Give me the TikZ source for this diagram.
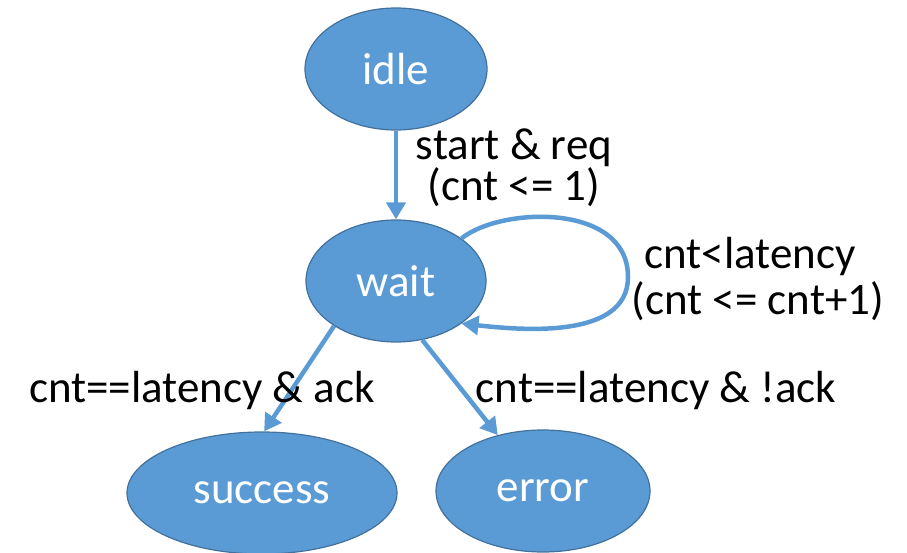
\documentclass[tikz,border=0pt]{standalone}
\usepackage{fontspec}
\setmainfont{Carlito}
\usepackage{tikz}
\usetikzlibrary{shapes.geometric}
\usetikzlibrary{arrows.meta}
\usepackage{xcolor}

\definecolor{statefill}{HTML}{5B9BD5}
\definecolor{stateedge}{HTML}{41719C}

\begin{document}
\begin{tikzpicture}[x=1pt, y=1pt]
  \useasboundingbox (0,0) rectangle (907,552);

  \tikzstyle{state} = [ellipse, draw=stateedge, line width=1.2pt, fill=statefill,
  text=white, inner sep=0pt, minimum height=122pt,
  font=\fontsize{45}{45}\selectfont]

  \tikzstyle{trans} = [draw=statefill, line width=4.5pt,
  -{Triangle[length=17pt, width=19pt]}]

  \tikzstyle{guard} = [anchor=base, inner sep=0pt, align=center,
  font=\fontsize{45}{45}\selectfont] % same size as the state names

% states
\node[state, minimum width=182pt] (idle) at (396,483) {idle};
\node[state, minimum width=180pt] (wait) at (396,271) {wait};
\node[state, minimum width=270pt] (success) at (262,59) {success};
\node[state, minimum width=214pt] (error) at (543,61) {error};

% transitions
\draw[trans] (idle.south) -- (wait.north);
\draw[trans] (wait.33) .. controls (500,345) and (628,350) .. (628,275)
  .. controls (628,212) and (520,222) .. (wait.-33);
\draw[trans] (wait.216) -- (success.88);
\draw[trans] (wait.-66) -- (error.129);

% guards and updates
\node[guard, font=\fontsize{45}{31}\selectfont] (startlbl) at (514,351)
  {start \& req\\(cnt <= 1)};

\node[guard] (looplbl) at (750,283) {cnt<latency};
\node[guard] (loopupd) at (758,237) {(cnt <= cnt+1)};

\node[guard] (acklbl) at (202,150) {cnt==latency \& ack};
\node[guard] (nacklbl) at (656,150) {cnt==latency \& !ack};

\end{tikzpicture}
\end{document}
